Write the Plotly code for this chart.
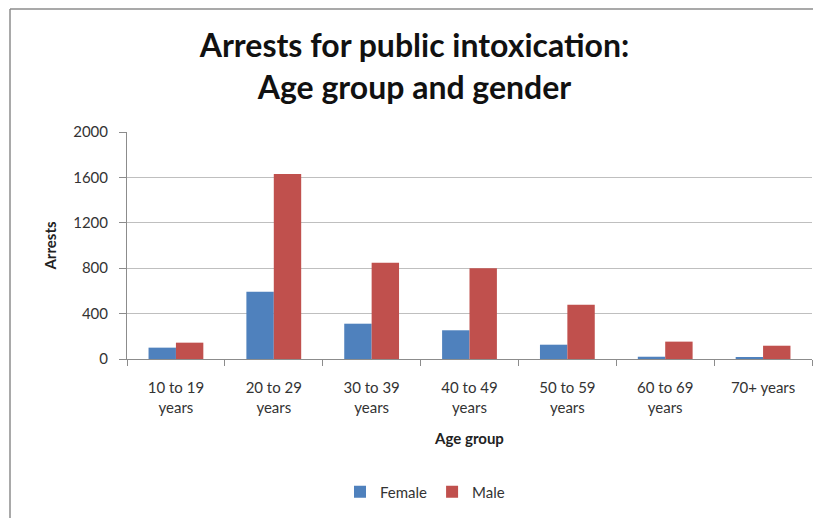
import plotly.graph_objects as go

categories = ["10 to 19<br>years", "20 to 29<br>years", "30 to 39<br>years", "40 to 49<br>years",
              "50 to 59<br>years", "60 to 69<br>years", "70+ years"]
female = [100, 593, 311, 253, 126, 20, 12]
male = [144, 1630, 849, 799, 479, 153, 117]
y_ticks = [0, 400, 800, 1200, 1600, 2000]

OFF = 8  # page body margin
W, H = 821 - OFF, 518 - OFF
L, R, T, B = 127 - OFF, 9, 132 - OFF, 159
pw, ph = W - L - R, H - T - B

def px_x(x):
    return (x - OFF - L) / pw

def px_y(y):
    return (H - B - (y - OFF)) / ph

FONT = "Lato, sans-serif"

fig = go.Figure()
fig.add_trace(go.Bar(name="Female", x=categories, y=female, marker_color="#4F81BD",
                     marker_line_width=0))
fig.add_trace(go.Bar(name="Male", x=categories, y=male, marker_color="#C0504D",
                     marker_line_width=0))

fig.update_layout(
    width=W, height=H,
    margin=dict(l=L, r=R, t=T, b=B),
    paper_bgcolor="white", plot_bgcolor="white",
    barmode="group", bargap=0.44, bargroupgap=0,
    font=dict(family=FONT, color="#333333", size=15),
    title=dict(text="<b>Arrests for public intoxication:<br>Age group and gender</b>",
               x=0.5, xanchor="center", y=1 - (57 - OFF) / H, yanchor="middle",
               font=dict(family=FONT, size=32, color="#111111")),
    showlegend=True,
    legend=dict(orientation="h", x=px_x(425), xanchor="center", y=px_y(492), yanchor="middle",
                font=dict(size=15), traceorder="normal"),
    xaxis=dict(showline=True, linecolor="#8c8c8c", linewidth=1,
               ticks="outside", tickson="boundaries", ticklen=6, tickcolor="#8c8c8c",
               tickfont=dict(size=15), ticklabelstandoff=15,
               title=dict(text="<b>Age group</b>", font=dict(size=15, color="#222222"), standoff=18)),
    yaxis=dict(range=[0, 2000], tickvals=y_ticks, showline=True, linecolor="#8c8c8c", linewidth=1,
               ticks="outside", ticklen=7, tickcolor="#8c8c8c",
               showgrid=True, gridcolor="#bfbfbf", gridwidth=1.3,
               tickfont=dict(size=15), zeroline=False, ticklabelstandoff=8,
               title=dict(text="<b>Arrests</b>", font=dict(size=15, color="#222222"), standoff=12)),
    shapes=[
        dict(type="line", xref="paper", yref="paper", x0=px_x(10), x1=px_x(10),
             y0=px_y(9), y1=px_y(530), line=dict(color="#8c8c8c", width=1.5)),
        dict(type="line", xref="paper", yref="paper", x0=px_x(10), x1=px_x(830),
             y0=px_y(9), y1=px_y(9), line=dict(color="#8c8c8c", width=1.5)),
    ],
)

fig.write_html("out.html")
